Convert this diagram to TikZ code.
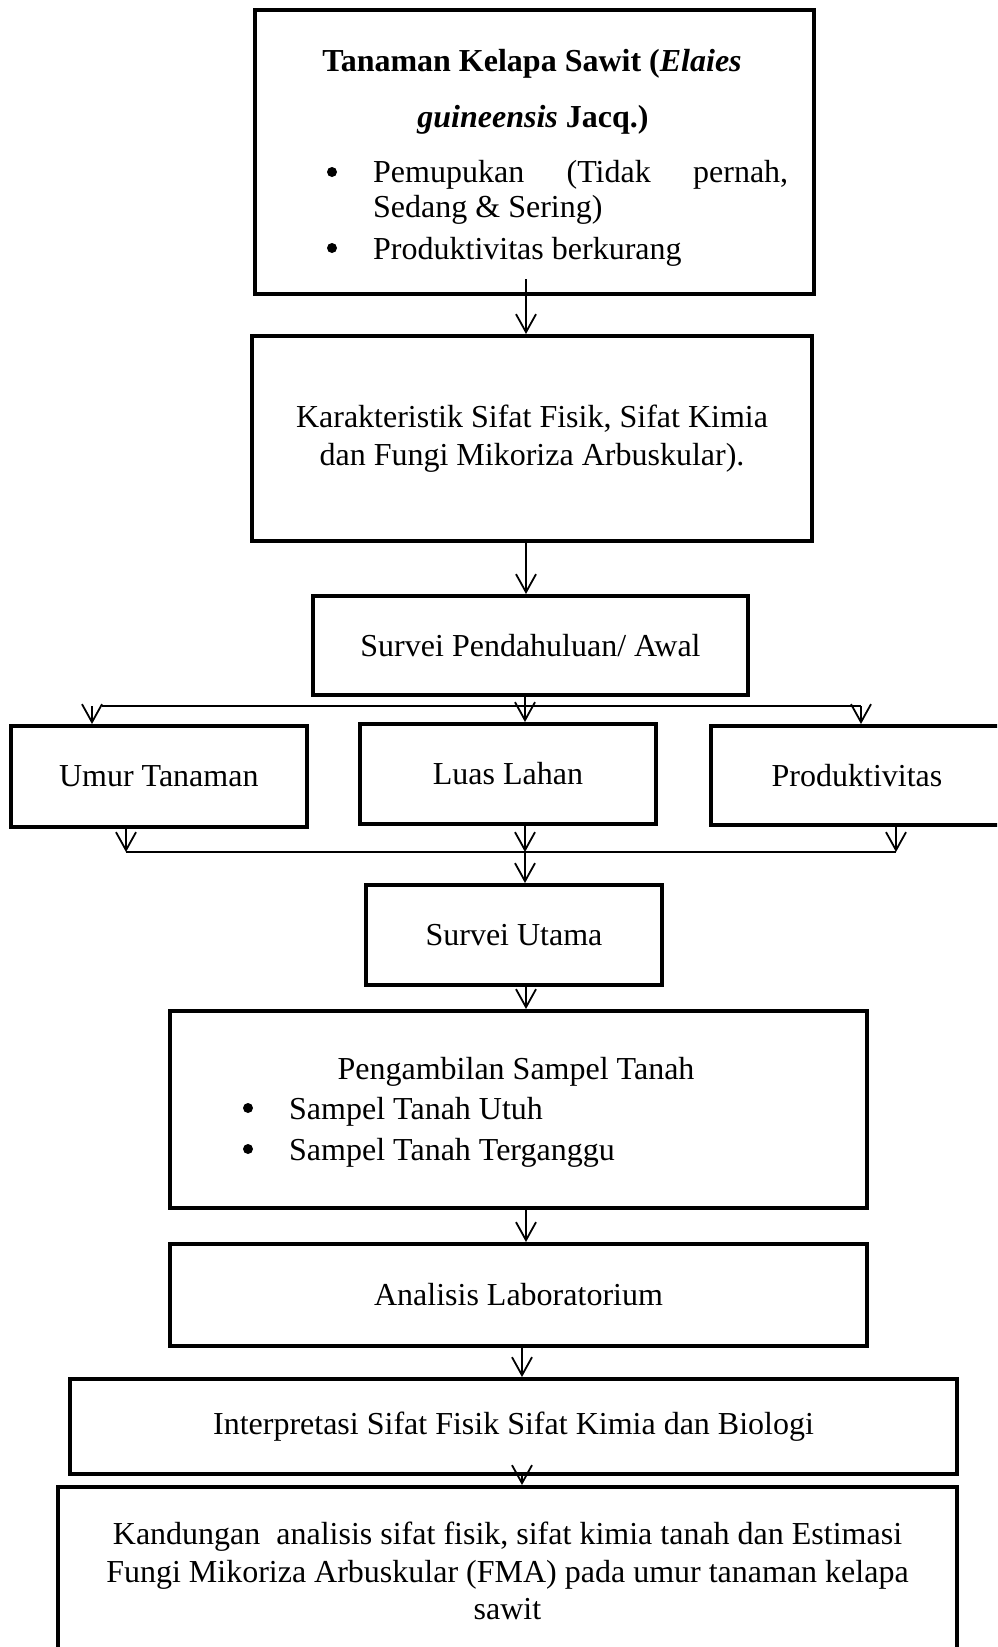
\documentclass[tikz,border=0pt]{standalone}
\usepackage{fontspec}
\setmainfont{Liberation Serif}
\usetikzlibrary{arrows.meta}
\begin{document}
\begin{tikzpicture}[x=1pt,y=-1pt,
  box/.style={draw, line width=4pt, rectangle, inner sep=0pt, align=center, font=\fontsize{32}{37.5}\selectfont},
  txt/.style={inner sep=0pt, font=\fontsize{32}{37.5}\selectfont},
  btxt/.style={inner sep=0pt, font=\fontsize{32}{37.5}\selectfont\bfseries},
  dot/.style={circle, fill, inner sep=0pt, minimum size=10pt},
  arr/.style={line width=1.8pt, -{Straight Barb[length=18pt,width=20pt]}},
  ln/.style={line width=1.8pt}]
\useasboundingbox (0,0) rectangle (997,1647);
\clip (0,0) rectangle (997,1647);

% boxes
\node[box, minimum width=559pt, minimum height=284pt] (b1) at (534.5,152) {};
\node[box, minimum width=560pt, minimum height=205pt] (b2) at (532,438.5) {Karakteristik Sifat Fisik, Sifat Kimia\\dan Fungi Mikoriza Arbuskular).};
\node[box, minimum width=435pt, minimum height=99pt] (b3) at (530.5,645.5) {Survei Pendahuluan/ Awal};
\node[box, minimum width=296.5pt, minimum height=101pt] (b4) at (158.75,776.5) {Umur Tanaman};
\node[box, minimum width=296pt, minimum height=100pt] (b5) at (508,774) {Luas Lahan};
\node[box, minimum width=292pt, minimum height=99pt] (b6) at (857,775.5) {Produktivitas};
\node[box, minimum width=296pt, minimum height=100pt] (b7) at (514,935) {Survei Utama};
\node[box, minimum width=697pt, minimum height=197pt] (b8) at (518.5,1109.5) {};
\node[box, minimum width=697pt, minimum height=102pt] (b9) at (518.5,1295) {Analisis Laboratorium};
\node[box, minimum width=887pt, minimum height=95pt] (b10) at (513.5,1426.5) {Interpretasi Sifat Fisik Sifat Kimia dan Biologi};
\node[box, minimum width=899pt, minimum height=168pt] (b11) at (507.5,1571) {Kandungan\ \ analisis sifat fisik, sifat kimia tanah dan Estimasi\\Fungi Mikoriza Arbuskular (FMA) pada umur tanaman kelapa\\sawit};

% texts of box 1
\node[btxt, anchor=base] (t1a) at (532,71) {Tanaman Kelapa Sawit (\textit{Elaies}};
\node[btxt, anchor=base] (t1b) at (533,127) {\textit{guineensis} Jacq.)};
\node[dot] (bu1) at (332,172) {};
\node[txt, anchor=base west] (t1c) at (373,182) {\hbox to 415pt{Pemupukan\hfill(Tidak\hfill pernah,}};
\node[txt, anchor=base west] (t1d) at (373,217) {Sedang \& Sering)};
\node[dot] (bu2) at (332,248) {};
\node[txt, anchor=base west] (t1e) at (373,259) {Produktivitas berkurang};

% texts of box 8
\node[txt, anchor=base] (t8a) at (516,1079) {Pengambilan Sampel Tanah};
\node[dot] (bu3) at (248,1108) {};
\node[txt, anchor=base west] (t8b) at (289,1119) {Sampel Tanah Utuh};
\node[dot] (bu4) at (248,1149) {};
\node[txt, anchor=base west] (t8c) at (289,1160) {Sampel Tanah Terganggu};

% spine coordinates
\coordinate (s1) at (526,0);
\coordinate (s2) at (522,0);
\coordinate (a0) at (526,279);
\coordinate (tl) at (92,706);
\coordinate (tl2) at (102,706);
\coordinate (tr) at (861,706);
\coordinate (tm) at (525,706);
\coordinate (bl) at (126,852);
\coordinate (br) at (896,852);
\coordinate (bm) at (525,852);

% connectors
\draw[arr] (a0) -- (b2.north -| a0);
\draw[arr] (b2.south -| s1) -- (b3.north -| s1);
\draw[ln] (tl2) -- (tr);
\draw[arr] (tl) -- (tl |- b4.north);
\draw[arr] (tr) -- (tr |- b6.north);
\draw[arr] (b3.south -| tm) -- (tm |- b5.north);
\draw[ln] (bl) -- (br);
\draw[arr] (b4.south -| bl) -- (bl);
\draw[arr] (b5.south -| bm) -- (bm);
\draw[arr] (b6.south -| br) -- (br);
\draw[arr] (bm) -- (bm |- b7.north);
\draw[arr] (b7.south -| s1) -- (b8.north -| s1);
\draw[arr] (b8.south -| s1) -- (b9.north -| s1);
\draw[arr] (b9.south -| s2) -- (b10.north -| s2);
\draw[arr] (b10.south -| s2) -- (b11.north -| s2);
\end{tikzpicture}
\end{document}
